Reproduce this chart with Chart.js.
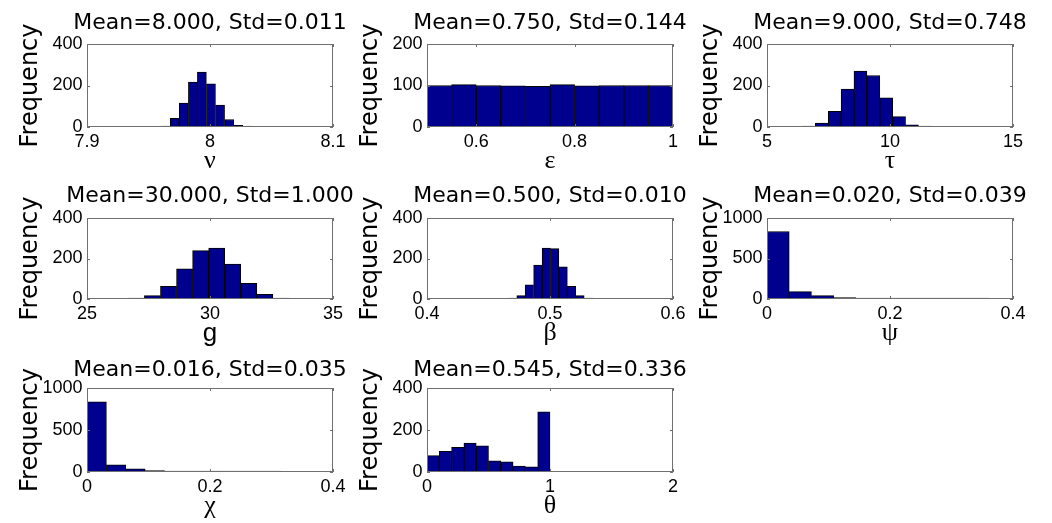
<!DOCTYPE html>
<html>
<head>
<meta charset="utf-8">
<script src="https://cdn.jsdelivr.net/npm/chart.js@4.4.1/dist/chart.umd.min.js"></script>
<style>
  html, body { margin: 0; padding: 0; background: #fff; }
  #wrap { position: relative; width: 1052px; height: 523px; overflow: hidden; }
  #wrap canvas { position: absolute; }
</style>
</head>
<body>
<div id="wrap"></div>
<script>
// 8 histograms, 10 bins each; bin centres and counts
const xLabels = ['ν', 'ε', 'τ', 'g', 'β', 'ψ', 'χ', 'θ'];
const means = [8.000, 0.750, 9.000, 30.000, 0.500, 0.020, 0.016, 0.545];
const stds = [0.011, 0.144, 0.748, 1.000, 0.010, 0.039, 0.035, 0.336];

const nuBins = [7.9639, 7.9713, 7.9787, 7.9861, 7.9934, 8.0008, 8.0082, 8.0156, 8.0229, 8.0303];
const nuCounts = [3, 42, 115, 216, 265, 208, 106, 36, 8, 1];

const epsBins = [0.525, 0.575, 0.625, 0.675, 0.725, 0.775, 0.825, 0.875, 0.925, 0.975];
const epsCounts = [100, 102, 100, 99, 98, 102, 99, 100, 100, 100];

const tauBins = [6.702, 7.226, 7.750, 8.274, 8.798, 9.322, 9.846, 10.370, 10.894, 11.418];
const tauCounts = [3, 19, 76, 183, 269, 248, 140, 50, 10, 2];

const gBins = [27.007, 27.660, 28.313, 28.966, 29.619, 30.272, 30.925, 31.578, 32.231, 32.884];
const gCounts = [4, 17, 62, 149, 239, 251, 172, 78, 23, 5];

const betaBins = [0.4695, 0.4764, 0.4832, 0.4901, 0.4970, 0.5038, 0.5107, 0.5175, 0.5244, 0.5313];
const betaCounts = [4, 17, 70, 167, 252, 249, 159, 62, 17, 3];

const psiBins = [0.0181, 0.0542, 0.0903, 0.1264, 0.1625, 0.1986, 0.2347, 0.2708, 0.3069, 0.3430];
const psiCounts = [833, 92, 42, 19, 8, 3, 1, 1, 0, 1];

const chiBins = [0.0158, 0.0473, 0.0788, 0.1103, 0.1418, 0.1733, 0.2048, 0.2363, 0.2678, 0.2993];
const chiCounts = [835, 85, 38, 18, 10, 6, 3, 2, 2, 1];

const thetaBins = [0.05, 0.15, 0.25, 0.35, 0.45, 0.55, 0.65, 0.75, 0.85, 0.95];
const thetaCounts = [78, 99, 118, 138, 125, 53, 49, 28, 25, 287];

const xRanges = [[7.9, 8.1], [0.5, 1], [5, 15], [25, 35], [0.4, 0.6], [0, 0.4], [0, 0.4], [0, 2]];
const xTicks = [[7.9, 8, 8.1], [0.6, 0.8, 1], [5, 10, 15], [25, 30, 35], [0.4, 0.5, 0.6], [0, 0.2, 0.4], [0, 0.2, 0.4], [0, 1, 2]];
const yTicks = [[0, 200, 400], [0, 100, 200], [0, 200, 400], [0, 200, 400], [0, 200, 400], [0, 500, 1000], [0, 500, 1000], [0, 200, 400]];

const bins = [nuBins, epsBins, tauBins, gBins, betaBins, psiBins, chiBins, thetaBins];
const counts = [nuCounts, epsCounts, tauCounts, gCounts, betaCounts, psiCounts, chiCounts, thetaCounts];

// panel geometry (plot area edges in page px)
const colLeft = [87, 427, 767];
const rowTop = [44, 218, 388];
const rowBottom = [127, 299, 472];
const canvasTop = [8, 181, 355];
const PLOT_W = 246;
const Y_AXIS_W = 71;
const X_AXIS_H = 50;
const TITLE_SIZE = 22;
const TITLE_SHIFT = 2;

const labelFamily = ['Liberation Serif', 'Liberation Serif', 'Liberation Serif', 'Liberation Sans',
  'Liberation Serif', 'Liberation Serif', 'Liberation Serif', 'Liberation Serif'];

Chart.defaults.color = '#000';

// matlab style box with inward tick marks
const boxPlugin = {
  id: 'box',
  afterDatasetsDraw(chart) {
    const { ctx, chartArea: a, scales: { x, y } } = chart;
    ctx.save();
    ctx.strokeStyle = '#707070';
    ctx.lineWidth = 1;
    ctx.beginPath();
    x.ticks.forEach(t => {
      const px = Math.round(x.getPixelForValue(t.value)) + 0.5;
      ctx.moveTo(px, a.bottom); ctx.lineTo(px, a.bottom - 3);
      ctx.moveTo(px, a.top); ctx.lineTo(px, a.top + 3);
    });
    y.ticks.forEach(t => {
      const py = Math.round(y.getPixelForValue(t.value)) + 0.5;
      ctx.moveTo(a.left, py); ctx.lineTo(a.left + 3, py);
      ctx.moveTo(a.right, py); ctx.lineTo(a.right - 3, py);
    });
    ctx.stroke();
    ctx.strokeRect(Math.round(a.left) + 0.5, Math.round(a.top) + 0.5, Math.round(a.width) - 1, Math.round(a.height) - 1);
    ctx.restore();
  }
};

const wrap = document.getElementById('wrap');
const charts = [];

function makePanel(i) {
  const col = i % 3, row = Math.floor(i / 3);
  const top = canvasTop[row];
  const canvas = document.createElement('canvas');
  canvas.width = Y_AXIS_W * 2 + PLOT_W;
  canvas.height = rowBottom[row] - top + X_AXIS_H;
  canvas.style.left = (colLeft[col] - Y_AXIS_W) + 'px';
  canvas.style.top = top + 'px';
  wrap.appendChild(canvas);

  const titlePad = rowTop[row] - top - TITLE_SIZE * 1.2;

  return new Chart(canvas, {
    type: 'bar',
    data: {
      datasets: [{
        data: bins[i].map((x, k) => ({ x: x, y: counts[i][k] })),
        backgroundColor: '#00008f',
        borderColor: '#000000',
        borderWidth: 1,
        minBarLength: 1,
        barPercentage: 1,
        categoryPercentage: 1
      }]
    },
    options: {
      responsive: false,
      animation: false,
      layout: { padding: 0 },
      plugins: {
        legend: { display: false },
        tooltip: { enabled: false },
        title: {
          display: true,
          text: 'Mean=' + means[i].toFixed(3) + ', Std=' + stds[i].toFixed(3),
          font: { family: 'DejaVu Sans', size: TITLE_SIZE, weight: 'normal' },
          color: '#000',
          padding: { top: TITLE_SHIFT, bottom: titlePad - TITLE_SHIFT }
        }
      },
      scales: {
        x: {
          type: 'linear',
          min: xRanges[i][0],
          max: xRanges[i][1],
          offset: false,
          grid: { display: false, drawTicks: false, offset: false },
          border: { display: false },
          afterBuildTicks: s => { s.ticks = xTicks[i].map(v => ({ value: v })); },
          afterFit: s => { s.height = X_AXIS_H; },
          ticks: {
            font: { family: 'Liberation Sans', size: 18 },
            color: '#000',
            padding: 4,
            maxRotation: 0,
            autoSkip: false,
            callback: v => String(v)
          },
          title: {
            display: true,
            text: xLabels[i],
            font: { family: labelFamily[i], size: 26 },
            color: '#000',
            padding: 0
          }
        },
        y: {
          min: 0,
          max: yTicks[i][yTicks[i].length - 1],
          grid: { display: false, drawTicks: false },
          border: { display: false },
          afterBuildTicks: s => { s.ticks = yTicks[i].map(v => ({ value: v })); },
          afterFit: s => { s.width = Y_AXIS_W; },
          ticks: {
            font: { family: 'Liberation Sans', size: 18 },
            color: '#000',
            padding: 4.5,
            callback: v => String(v)
          },
          title: {
            display: true,
            text: 'Frequency',
            font: { family: 'DejaVu Sans', size: 24 },
            color: '#000',
            padding: 0
          }
        },
        // empty right-hand axis so the title centres over the plot
        yPad: {
          position: 'right',
          grid: { display: false, drawTicks: false },
          border: { display: false },
          ticks: { display: false },
          afterFit: s => { s.width = Y_AXIS_W; }
        }
      }
    },
    plugins: [boxPlugin]
  });
}

for (let i = 0; i < bins.length; i++) charts.push(makePanel(i));
</script>
</body>
</html>
